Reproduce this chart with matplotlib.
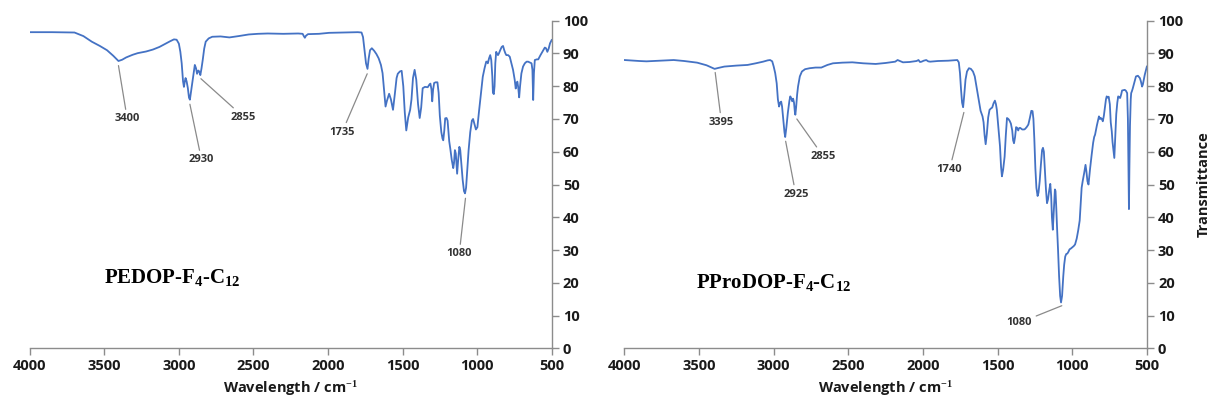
import matplotlib
matplotlib.use("Agg")
import matplotlib.pyplot as plt

# ---------------- data ----------------
wn_left = [4000, 3850, 3700, 3640, 3584, 3530, 3482, 3440, 3405, 3380, 3353, 3310, 3276, 3220, 3174, 3130,
           3097, 3060, 3033, 3015, 3000, 2990, 2981, 2972, 2966, 2960, 2955, 2948, 2940, 2932, 2926, 2918,
           2904, 2893, 2885, 2878, 2870, 2863, 2856, 2848, 2840, 2830, 2820, 2800, 2776, 2720, 2661, 2600,
           2532, 2470, 2404, 2300, 2200, 2170, 2162, 2155, 2148, 2134, 2060, 1993, 1900, 1800, 1775, 1765,
           1755, 1745, 1735, 1727, 1718, 1706, 1690, 1675, 1660, 1645, 1634, 1624, 1614, 1605, 1590, 1578,
           1564, 1552, 1540, 1532, 1518, 1506, 1495, 1485, 1475, 1462, 1449, 1440, 1430, 1419, 1408, 1396,
           1385, 1375, 1365, 1350, 1331, 1320, 1313, 1306, 1301, 1295, 1288, 1278, 1266, 1258, 1250, 1240,
           1232, 1227, 1220, 1214, 1205, 1198, 1192, 1187, 1180, 1170, 1160, 1155, 1149, 1143, 1138, 1134,
           1127, 1119, 1113, 1106, 1097, 1088, 1081, 1074, 1066, 1057, 1046, 1035, 1027, 1018, 1008, 998,
           988, 975, 962, 950, 939, 932, 928, 920, 912, 905, 898, 894, 888, 883, 878, 872, 867, 860, 854,
           845, 835, 826, 818, 810, 804, 792, 781, 770, 759, 748, 741, 735, 730, 724, 718, 712, 703, 692,
           680, 668, 658, 645, 635, 629, 624, 619, 613, 600, 590, 575, 556, 546, 538, 529, 520, 511, 500]
tr_left = [96.5, 96.5, 96.4, 95.3, 93.6, 92.3, 91.0, 89.3, 87.7, 88.1, 88.8, 89.6, 90.1, 90.6, 91.2, 92.0,
           92.8, 93.7, 94.3, 94.2, 93.0, 90.5, 87.0, 81.5, 79.8, 81.5, 82.5, 81.5, 79.5, 76.5, 75.9, 78.5,
           83.0, 86.5, 85.5, 83.8, 84.8, 84.5, 83.4, 85.5, 88.0, 91.5, 93.6, 94.6, 95.1, 95.2, 94.9, 95.3,
           95.8, 96.0, 96.1, 96.0, 96.1, 96.0, 95.3, 94.8, 95.4, 95.9, 96.0, 96.3, 96.4, 96.5, 96.4, 95.0,
           91.0, 87.0, 85.3, 88.5, 91.0, 91.6, 90.8, 89.8, 88.5, 86.5, 84.0, 79.0, 73.8, 75.5, 77.7, 76.0,
           72.8, 77.5, 82.5, 83.8, 84.5, 84.7, 80.0, 72.0, 66.5, 70.5, 72.8, 76.0, 82.5, 85.0, 82.0, 74.5,
           70.3, 73.5, 79.4, 79.8, 79.7, 80.5, 80.8, 79.0, 75.4, 79.0, 81.0, 81.2, 81.2, 78.0, 71.0, 66.0,
           64.0, 63.5, 66.5, 70.2, 70.3, 69.5, 66.0, 63.2, 61.0, 57.5, 55.0, 56.5, 60.5, 59.5, 56.0, 53.3,
           57.5, 61.5, 60.5, 56.5, 51.5, 48.0, 47.3, 49.0, 54.5, 60.5, 66.0, 69.5, 70.0, 68.5, 66.8, 67.5,
           72.0, 77.5, 82.9, 85.5, 87.5, 87.5, 87.0, 88.5, 89.5, 88.0, 83.0, 78.0, 77.6, 80.0, 87.0, 90.5,
           90.0, 89.5, 90.0, 91.0, 92.0, 92.3, 91.0, 90.0, 89.5, 89.5, 89.0, 87.0, 85.0, 82.0, 79.3, 81.0,
           81.4, 79.5, 76.6, 80.0, 83.9, 86.0, 87.0, 87.5, 87.5, 87.2, 87.0, 85.0, 75.8, 84.0, 88.0, 88.2,
           88.2, 89.5, 91.0, 91.8, 91.6, 90.5, 91.5, 93.1, 94.1]

wn_right = [4000, 3900, 3852, 3760, 3670, 3600, 3513, 3450, 3396, 3370, 3331, 3250, 3175, 3120, 3071, 3040,
            3024, 3010, 3000, 2990, 2980, 2972, 2964, 2957, 2950, 2944, 2936, 2928, 2923, 2915, 2905, 2895,
            2889, 2882, 2876, 2870, 2864, 2858, 2855, 2850, 2843, 2837, 2825, 2811, 2790, 2759, 2720, 2681,
            2640, 2603, 2540, 2473, 2400, 2317, 2250, 2186, 2170, 2160, 2134, 2090, 2043, 2030, 2020, 2009,
            1995, 1978, 1965, 1952, 1900, 1830, 1770, 1760, 1752, 1745, 1738, 1731, 1724, 1715, 1705, 1692,
            1679, 1665, 1653, 1640, 1627, 1614, 1601, 1594, 1587, 1580, 1572, 1563, 1554, 1545, 1536, 1527,
            1518, 1511, 1505, 1496, 1484, 1477, 1471, 1463, 1453, 1445, 1437, 1428, 1420, 1411, 1402, 1396,
            1390, 1383, 1376, 1369, 1362, 1356, 1349, 1335, 1322, 1315, 1304, 1294, 1283, 1274, 1266, 1260,
            1254, 1247, 1240, 1232, 1226, 1218, 1210, 1202, 1196, 1190, 1184, 1176, 1169, 1162, 1155, 1147,
            1141, 1136, 1130, 1123, 1116, 1112, 1107, 1102, 1095, 1088, 1081, 1075, 1068, 1060, 1054, 1047,
            1040, 1033, 1025, 1018, 1008, 1000, 990, 981, 970, 960, 950, 941, 937, 930, 920, 911, 905, 898,
            891, 880, 870, 860, 853, 847, 835, 821, 814, 808, 802, 795, 788, 780, 774, 769, 762, 756, 748,
            742, 735, 730, 725, 718, 712, 705, 698, 692, 685, 679, 672, 666, 658, 648, 640, 632, 627, 623,
            620, 617, 613, 608, 605, 600, 594, 585, 573, 560, 547, 540, 532, 527, 521, 514, 507, 500]
tr_right = [88.0, 87.7, 87.6, 87.8, 88.0, 87.7, 87.2, 86.4, 85.3, 85.6, 86.0, 86.3, 86.5, 87.0, 87.5, 87.9,
            88.0, 87.6, 86.0, 84.0, 80.9, 76.0, 73.8, 75.0, 75.3, 73.8, 70.0, 66.0, 64.5, 67.5, 72.0, 75.5,
            76.9, 76.3, 75.4, 76.2, 75.0, 72.0, 71.3, 73.5, 77.5, 79.9, 83.0, 84.5, 85.2, 85.5, 85.7, 85.7,
            86.5, 87.0, 87.2, 87.3, 87.0, 86.8, 87.1, 87.5, 88.0, 87.8, 87.3, 87.4, 87.7, 88.0, 87.4, 87.5,
            87.8, 88.0, 87.6, 87.5, 87.7, 87.8, 88.0, 87.3, 84.0, 79.0, 75.0, 73.6, 77.0, 82.0, 84.5, 85.5,
            85.3, 84.5, 83.0, 79.5, 75.9, 72.5, 70.8, 69.0, 65.0, 62.3, 65.5, 70.5, 72.8, 73.2, 73.5, 74.8,
            75.6, 74.5, 72.8, 68.0, 61.7, 55.5, 52.5, 54.5, 58.5, 65.0, 70.3, 70.0, 69.5, 68.6, 66.5, 63.5,
            62.6, 64.5, 67.5, 67.3, 66.5, 67.2, 67.3, 66.8, 66.8, 67.0, 67.6, 68.3, 70.5, 72.5, 72.4, 70.0,
            64.0, 55.0, 49.0, 46.5, 47.5, 51.0, 56.0, 60.5, 61.2, 60.0, 55.0, 48.5, 44.3, 45.5, 48.0, 50.2,
            46.5, 40.0, 36.2, 42.5, 48.5, 48.0, 43.0, 37.2, 30.0, 22.0, 16.0, 14.0, 16.0, 22.0, 25.5, 28.0,
            28.8, 28.9, 29.5, 30.2, 30.5, 30.8, 31.2, 31.7, 33.5, 36.0, 39.0, 46.0, 49.0, 51.0, 53.5, 56.0, 54.0, 51.0,
            50.0, 55.0, 59.0, 62.7, 64.5, 65.2, 68.0, 70.8, 70.0, 70.3, 70.0, 69.3, 71.0, 74.0, 76.0, 76.9, 76.5, 76.8, 74.5,
            69.0, 66.2, 63.0, 61.0, 58.1, 64.0, 71.5, 75.0, 76.9, 76.6, 76.4, 77.5, 78.7, 78.8, 78.9, 78.6, 77.9, 70.0, 55.0,
            42.5, 55.0, 68.0, 76.0, 77.9, 78.5, 79.4, 81.0, 83.0, 83.2, 82.5, 81.5, 79.9, 80.5, 81.9, 83.5, 84.8, 86.0]

x_ticks = [4000, 3500, 3000, 2500, 2000, 1500, 1000, 500]
y_ticks = [0, 10, 20, 30, 40, 50, 60, 70, 80, 90, 100]

# peak annotations: label, peak position, label position
ann_left_labels = ["3400", "2930", "2855", "1735", "1080"]
ann_left_tip = [(3405, 86.3), (2926, 74.5), (2852, 82.3), (1737, 83.8), (1078, 45.8)]
ann_left_text = [(3346, 70.0), (2848, 57.5), (2566, 70.6), (1905, 66.0), (1120, 28.8)]

ann_right_labels = ["3395", "2925", "2855", "1740", "1080"]
ann_right_tip = [(3392, 84.2), (2920, 63.2), (2845, 70.0), (1726, 72.0), (1070, 13.0)]
ann_right_text = [(3350, 69.0), (2852, 47.0), (2668, 58.6), (1822, 54.6), (1354, 7.8)]

names = [r"PEDOP-F$_{4}$-C$_{12}$", r"PProDOP-F$_{4}$-C$_{12}$"]
name_pos = [(3502, 21.5), (3519, 20.0)]

# ---------------- style ----------------
plt.rcParams['mathtext.fontset'] = 'custom'
plt.rcParams['mathtext.rm'] = 'Liberation Serif:bold'
plt.rcParams['mathtext.it'] = 'Liberation Serif:bold'
plt.rcParams['mathtext.bf'] = 'Liberation Serif:bold'

line_color = "#4472C4"
axis_color = "#8C8C8C"
tick_font = dict(family=['Open Sans', 'DejaVu Sans'], weight='bold', size=10.5)

fig = plt.figure(figsize=(12.09, 4.03), dpi=100)
ax_l = fig.add_axes([0.0246, 0.1357, 0.4317, 0.8129])
ax_r = fig.add_axes([0.5165, 0.1357, 0.4321, 0.8129])

panels = [
    (ax_l, wn_left, tr_left, ann_left_labels, ann_left_tip, ann_left_text, names[0], name_pos[0], False),
    (ax_r, wn_right, tr_right, ann_right_labels, ann_right_tip, ann_right_text, names[1], name_pos[1], True),
]

for ax, wn, tr, labs, tips, tpos, name, npos, ylab in panels:
    ax.plot(wn, tr, color=line_color, lw=1.3, solid_joinstyle='round')
    ax.set_xlim(4000, 500)
    ax.set_ylim(0, 100)
    ax.set_xticks(x_ticks)
    ax.set_yticks(y_ticks)
    for s in ['top', 'left']:
        ax.spines[s].set_visible(False)
    for s in ['bottom', 'right']:
        ax.spines[s].set_color(axis_color)
        ax.spines[s].set_linewidth(1.0)
    ax.yaxis.tick_right()
    ax.yaxis.set_label_position('right')
    ax.tick_params(axis='both', direction='out', length=5, width=1.0, color=axis_color,
                   labelcolor='#1a1a1a', pad=3)
    for lab in ax.get_xticklabels() + ax.get_yticklabels():
        lab.set_fontfamily(tick_font['family'])
        lab.set_fontweight('bold')
        lab.set_fontsize(tick_font['size'])
    ax.set_xlabel(r"Wavelength / cm$^{-1}$", fontfamily=['Open Sans', 'DejaVu Sans'],
                  fontweight='bold', fontsize=10.5, color='#1a1a1a', labelpad=4)
    if ylab:
        ax.set_ylabel("Transmittance", fontfamily=['Open Sans', 'DejaVu Sans'],
                      fontweight='bold', fontsize=10.5, color='#1a1a1a', labelpad=10)
    for lab, tip, tp in zip(labs, tips, tpos):
        ax.annotate(lab, xy=tip, xytext=tp, ha='center', va='center',
                    fontfamily=['Open Sans', 'DejaVu Sans'], fontweight='bold', fontsize=8,
                    color='#333333',
                    arrowprops=dict(arrowstyle='-', color='#8a8a8a', lw=0.9, shrinkA=1, shrinkB=0))
    ax.text(npos[0], npos[1], name, ha='left', va='center', fontsize=15,
            fontfamily='Liberation Serif', fontweight='bold', color='black')

fig.savefig("out.png", dpi=100)
